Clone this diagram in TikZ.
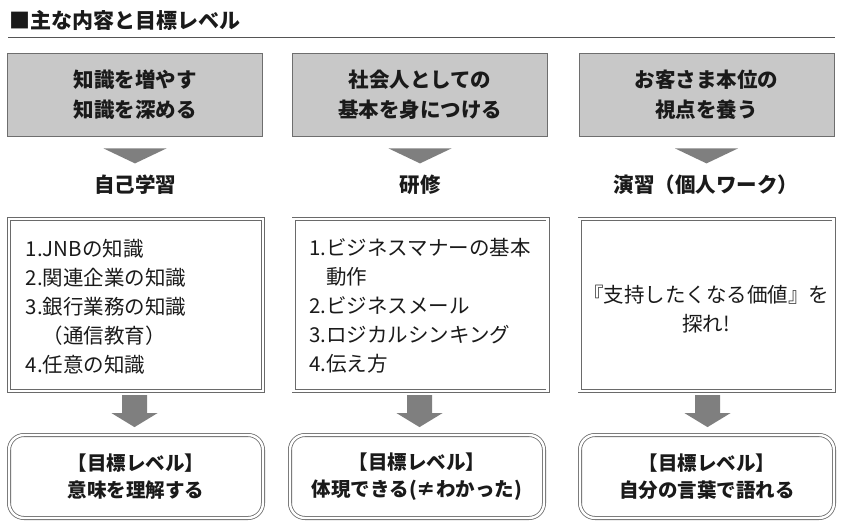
\documentclass[tikz,border=0pt]{standalone}
\usepackage{fontspec}
\setmainfont{Noto Sans CJK JP}
\usetikzlibrary{calc}
\definecolor{txt}{HTML}{1A1A1A}
\definecolor{boxfill}{HTML}{C8C8C8}
\definecolor{boxline}{HTML}{6E6E6E}
\definecolor{arrowgray}{HTML}{7F7F7F}
\definecolor{dblline}{HTML}{6A6A6A}
\definecolor{ruleline}{HTML}{555555}
\tikzset{
  topbox/.style={draw=boxline, fill=boxfill, line width=0.8pt, minimum width=255pt, minimum height=83pt,
    align=center, text=txt, inner sep=0pt, font=\bfseries\fontsize{20.5}{30}\selectfont},
  steplabel/.style={text=txt, inner sep=0pt, font=\bfseries\fontsize{20.5}{24}\selectfont},
  midbox/.style={draw=dblline, line width=0.8pt, double=white, double distance=2.4pt,
    minimum width=254pt, minimum height=172pt, inner sep=0pt},
  goalbox/.style={draw=dblline, line width=0.8pt, double=white, double distance=2.4pt, rounded corners=15pt,
    minimum width=254pt, minimum height=83pt, inner sep=0pt, align=center, text=txt,
    font=\bfseries\fontsize{19.5}{27}\selectfont},
  listtext/.style={inner sep=0pt, align=left, text=txt, font=\fontsize{20.5}{29}\selectfont},
  tri/.style={fill=arrowgray},
  blockarrow/.style={fill=arrowgray}
}
\begin{document}
\begin{tikzpicture}[x=1pt,y=-1pt]
\useasboundingbox (0,0) rectangle (845,531);
% title
\node[anchor=west, text=txt, inner sep=0pt, font=\bfseries\fontsize{21}{21}\selectfont] (title) at (9,20) {■主な内容と目標レベル};
\draw[ruleline, line width=0.9pt] (8,37) -- (835,37);
% top boxes
\node[topbox] (t1) at (135,94.5) {知識を増やす\\知識を深める};
\node[topbox] (t2) at (420,94.5) {社会人としての\\基本を身につける};
\node[topbox] (t3) at (706.5,94.5) {お客さま本位の\\視点を養う};
% triangles
\foreach \n in {t1,t2,t3}{
  \fill[tri] ($(\n.south)+(-31.5,12)$) -- ($(\n.south)+(31.5,12)$) -- ($(\n.south)+(0,27)$) -- cycle;
}
% labels
\node[steplabel] (l1) at (135,185) {自己学習};
\node[steplabel] (l2) at (420,185) {研修};
\node[steplabel] (l3) at (706,185) {演習（個人ワーク）};
% middle boxes
\node[midbox] (m1) at (136,305) {};
\node[midbox] (m2) at (420.5,305) {};
\node[midbox] (m3) at (706.5,305) {};
\node[listtext, anchor=west] (x1) at ($(m1.west)+(17,2)$) {1.JNBの知識\\2.関連企業の知識\\3.銀行業務の知識\\\phantom{3.}（通信教育）\\4.任意の知識};
\node[listtext, anchor=west] (x2) at ($(m2.west)+(16,1)$) {1.ビジネスマナーの基本\\\phantom{1.}動作\\2.ビジネスメール\\3.ロジカルシンキング\\4.伝え方};
\node[listtext, align=center] (x3) at (706,309) {『支持したくなる価値』を\\探れ!};
% block arrows
\foreach \n/\dx in {m1/-1.5,m2/-1,m3/1}{
  \fill[blockarrow] ($(\n.south)+(\dx-12.5,3.7)$) -- ($(\n.south)+(\dx+12.5,3.7)$) -- ($(\n.south)+(\dx+12.5,21.7)$)
    -- ($(\n.south)+(\dx+23,21.7)$) -- ($(\n.south)+(\dx,35.7)$) -- ($(\n.south)+(\dx-23,21.7)$)
    -- ($(\n.south)+(\dx-12.5,21.7)$) -- cycle;
}
% goal boxes
\node[goalbox] (g1) at (136,476.5) {【目標レベル】\\意味を理解する};
\node[goalbox] (g2) at (417,476.5) {【目標レベル】\\体現できる(≠わかった)};
\node[goalbox] (g3) at (707,476.5) {【目標レベル】\\自分の言葉で語れる};
\end{tikzpicture}
\end{document}
